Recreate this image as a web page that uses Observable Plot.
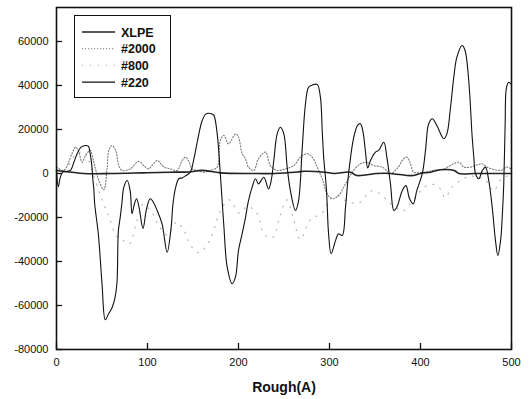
<!DOCTYPE html>
<html><head><meta charset="utf-8">
<script src="https://cdn.jsdelivr.net/npm/d3@7"></script>
<script src="https://cdn.jsdelivr.net/npm/@observablehq/plot@0.6"></script>
<style>
body{margin:0;background:#fff}
#wrap{position:relative;width:529px;height:399px}
#wrap [aria-label="x-axis label"] text{font-weight:bold;font-size:14px}
#legend{position:absolute;left:74px;top:15px;width:97px;height:83px;border:1.5px solid #111;box-sizing:border-box;background:#fff}
</style></head><body><div id="wrap"></div>
<script>
const seriesNames = ["XLPE", "#2000", "#800", "#220"];

const xlpeX = [0,7,15,30,60,95,125,145,160,180,215,240,265,272,295,305,323,330,352,367,385,392,400,411,422,437,442,460,480,500];
const xlpeY = [1500,1000,700,0,0,300,600,700,1400,300,0,0,700,1000,600,0,600,-900,0,0,-900,-900,0,600,1700,1400,0,0,0,0];

const s2000X = [0,8,17,21,24.5,28,32,37,41,46.5,52,55.7,57.5,61,65,68.5,72,81,90.4,96,101,105,110.6,118,125,132.6,138,141.8,145,149,154.6,162,169,176.6,180,184,189,196.7,200,204,207.7,211,216.8,222,229.7,235,242.5,251.6,260.8,268,275.5,281,286.5,292,297.5,303,310,317.6,325,334,341,348.7,358,367,374,381.6,385,389,392.6,403.6,415,425.6,442,447.6,455,467.8,473,488,495,500];
const s2000Y = [2900,1400,9000,12000,9700,5100,8200,10500,5100,-3200,-7400,2900,10500,12700,10500,3600,1400,2100,5500,3600,2100,3600,5900,3000,2100,1400,5900,7400,5900,2100,1400,600,1400,2900,15000,17300,13500,18000,16500,9000,6700,2900,1400,6700,9700,3600,1400,2100,3600,7400,9000,7400,2900,-2400,-9200,-11500,-10000,-4700,600,4400,5100,3600,2900,0,2100,6700,7400,4400,600,600,1500,2100,5100,2900,2900,4400,2900,1400,2900,2000];

const s800X = [0,10,20,30,40,50,58,65,72,80,88,95,105,113,122,132,140,148,157,166,172,180,190,201,210,220,229,238,245,253,260,268,279,292,300,308,321,334,345,355,365,375,381,392,405,415,422,427,435,445,455,462,469,475,480,488,496,500];
const s800Y = [0,2000,8000,10000,0,-12000,-20000,-28000,-30000,-32000,-22000,-14000,-18000,-24000,-28000,-22000,-26000,-33000,-36000,-32000,-27000,-17000,-12000,-18000,-15000,-18000,-28000,-29000,-20000,-12000,-20000,-30000,-21000,-18000,-12000,-10000,-13000,-13000,-8000,-9000,-13000,-16000,-17000,-12000,-6000,-5000,-7000,-11000,-6000,-3000,-1000,-2000,-2000,-5000,-8000,-3000,-1000,0];

const s220X = [0,2,4,7,12,15.4,19,22.7,27,32,35,37,39,40,41,42,46,50,53.6,57,61,64,66.4,68,70,72,74,77.7,81,83,85.5,88,91,95,99,103,107,110.6,116,121.6,126,128,131,134.4,138,142,147,151,155,160,164,167,171,173,176.6,179.5,182,184,187.6,193,196.7,200,204,207.7,211,215,218.7,222,227.8,233,236,238.8,242.5,246,249.8,253.5,257,262.6,266,270,273.6,277,281,286.5,290,292,293.5,296.7,299,301.8,306.6,310,314,317.6,321,326.7,331,334,337,339.5,342,345,350.5,354,359.7,363,367,370.7,374,380,384,388,392,396,402,405.5,409,413,418,425.6,429,433,436.6,440,445.8,449,453,456.8,458.6,460.4,464,468,471.4,475,478.8,482.4,485,488,490,491.5,493,494.5,497,500];
const s220Y = [1500,-6000,-2000,600,1000,1400,5000,9000,12000,12700,12400,9000,2700,-3000,-7000,-14000,-27600,-50000,-66500,-64000,-61000,-57000,-50000,-26000,-20000,-13000,-6200,-3200,-8000,-18300,-14000,-11500,-16000,-25000,-16000,-11500,-13500,-16800,-22900,-35800,-24400,-13800,-6200,-2400,-2000,-1000,600,6700,15000,24000,27000,27400,27000,26400,18000,2900,-12300,-24400,-42600,-50100,-47000,-35000,-27400,-19900,-12300,-6200,-2400,-4700,-1700,-7000,-3000,5900,18000,21000,18000,2900,-7700,-16800,-12300,11200,31700,39200,40200,40500,34700,19500,8000,-7700,-27400,-36500,-30500,-27400,-28200,-15300,0,16500,22000,22600,18500,10000,2500,5900,9700,10500,14200,7400,-4700,-16800,-15300,-7700,-5500,-11500,-13800,-7700,0,10500,22600,24900,21800,15800,18000,30100,43800,52900,58200,55900,42300,16500,7400,0,-2400,1400,2900,-3200,-15300,-30500,-37300,-30500,-18300,-4700,22000,39200,41500,40500];

const xTicks = [0,100,200,300,400,500];
const yTicks = [-80000,-60000,-40000,-20000,0,20000,40000,60000];

const zip = (xs, ys) => xs.map((x, i) => ({x, y: ys[i]}));
const d800 = zip(s800X, s800Y), d2000 = zip(s2000X, s2000Y), d220 = zip(s220X, s220Y), dX = zip(xlpeX, xlpeY);

const styles = {
  "XLPE": {stroke: "#222", strokeWidth: 1.6, dash: null},
  "#2000": {stroke: "#7a7a7a", strokeWidth: 1.1, dash: "1.2,1.8"},
  "#800": {stroke: "#b4b4b4", strokeWidth: 1.2, dash: "1,7"},
  "#220": {stroke: "#111", strokeWidth: 1.1, dash: null}
};
const lineFor = (data, name) => Plot.line(data, {x: "x", y: "y", curve: "catmull-rom",
  stroke: styles[name].stroke, strokeWidth: styles[name].strokeWidth, strokeDasharray: styles[name].dash});

const chart = Plot.plot({
  width: 529, height: 399,
  marginLeft: 56, marginRight: 18, marginTop: 7, marginBottom: 50,
  style: {fontFamily: "'Liberation Sans', Arial, sans-serif", fontSize: "11px", color: "#111", background: "white"},
  x: {domain: [0, 500]},
  y: {domain: [-80000, 75450]},
  marks: [
    lineFor(d800, "#800"),
    lineFor(d2000, "#2000"),
    lineFor(dX, "XLPE"),
    lineFor(d220, "#220"),
    Plot.frame({stroke: "#111", strokeWidth: 1.6}),
    Plot.axisY({ticks: yTicks, tickSize: 6, dx: 6, tickFormat: () => "", label: null, strokeWidth: 1.3}),
    Plot.axisY({ticks: yTicks, tickSize: 0, tickPadding: 8, tickFormat: d => String(d), label: null}),
    Plot.axisX({ticks: xTicks, tickSize: 6, dy: -6, tickFormat: () => "", label: null, strokeWidth: 1.3}),
    Plot.axisX({ticks: xTicks, tickSize: 0, tickPadding: 9, tickFormat: d => String(d), label: "Rough(A)", labelAnchor: "center", labelOffset: 42, labelArrow: "none"})
  ]
});
const wrap = document.getElementById("wrap");
wrap.appendChild(chart);

// legend
const leg = document.createElement("div");
leg.id = "legend";
const ns = "http://www.w3.org/2000/svg";
const lsvg = document.createElementNS(ns, "svg");
lsvg.setAttribute("width", 94); lsvg.setAttribute("height", 80);
lsvg.style.position = "absolute"; lsvg.style.left = "0"; lsvg.style.top = "0";
seriesNames.forEach((name, i) => {
  const y = 16 + i * 16.7;
  const ln = document.createElementNS(ns, "line");
  ln.setAttribute("x1", 7); ln.setAttribute("x2", 40); ln.setAttribute("y1", y); ln.setAttribute("y2", y);
  ln.setAttribute("stroke", styles[name].stroke);
  ln.setAttribute("stroke-width", styles[name].strokeWidth);
  if (styles[name].dash) ln.setAttribute("stroke-dasharray", styles[name].dash);
  lsvg.appendChild(ln);
  const t = document.createElementNS(ns, "text");
  t.setAttribute("x", 46); t.setAttribute("y", y); t.setAttribute("dy", "0.36em");
  t.setAttribute("font-family", "'Liberation Sans', Arial, sans-serif");
  t.setAttribute("font-weight", "bold"); t.setAttribute("font-size", "12.5");
  t.setAttribute("fill", "#111");
  t.textContent = name;
  lsvg.appendChild(t);
});
leg.appendChild(lsvg);
wrap.appendChild(leg);
</script></body></html>
